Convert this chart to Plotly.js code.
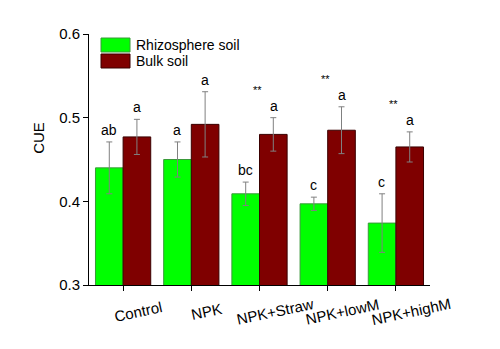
<!DOCTYPE html>
<html>
<head>
<meta charset="utf-8">
<script src="https://cdn.plot.ly/plotly-3.0.1.min.js"></script>
<style>html,body{margin:0;padding:0;background:#fff;}#chart{width:500px;height:349px;}</style>
</head>
<body>
<div id="chart"></div>
<script>
const categories = ["Control", "NPK", "NPK+Straw", "NPK+lowM", "NPK+highM"];
const seriesNames = ["Rhizosphere soil", "Bulk soil"];
const rhizoValues = [0.440, 0.450, 0.409, 0.397, 0.374];
const rhizoErrors = [0.031, 0.021, 0.014, 0.008, 0.035];
const bulkValues = [0.477, 0.492, 0.480, 0.485, 0.465];
const bulkErrors = [0.021, 0.039, 0.020, 0.028, 0.018];
const rhizoLetters = ["ab", "a", "bc", "c", "c"];
const bulkLetters = ["a", "a", "a", "a", "a"];
const significance = ["", "", "**", "**", "**"];
const yTicks = [0.3, 0.4, 0.5, 0.6];
const yTitle = "CUE";

const font = "Liberation Sans, Arial, sans-serif";
const colors = ["#00ff00", "#7f0000"];
const outlines = ["#3a9a3a", "#3a0000"];

const traces = [
  {
    type: "bar", name: seriesNames[0], x: categories, y: rhizoValues,
    marker: {color: colors[0], line: {color: outlines[0], width: 1}},
    error_y: {type: "data", array: rhizoErrors, visible: true, color: "#808080", thickness: 1, width: 3}
  },
  {
    type: "bar", name: seriesNames[1], x: categories, y: bulkValues,
    marker: {color: colors[1], line: {color: outlines[1], width: 1}},
    error_y: {type: "data", array: bulkErrors, visible: true, color: "#808080", thickness: 1, width: 3}
  }
];

const annotations = [];
categories.forEach((c, i) => {
  annotations.push({x: i, xshift: -14, y: rhizoValues[i] + rhizoErrors[i], yanchor: "bottom", yshift: 2,
    text: rhizoLetters[i], showarrow: false, font: {family: font, size: 14, color: "#000"}});
  annotations.push({x: i, xshift: 14, y: bulkValues[i] + bulkErrors[i], yanchor: "bottom", yshift: 2,
    text: bulkLetters[i], showarrow: false, font: {family: font, size: 14, color: "#000"}});
  if (significance[i]) {
    annotations.push({x: i, xshift: -2, y: bulkValues[i] + bulkErrors[i], yanchor: "bottom", yshift: 20,
      text: significance[i], showarrow: false, font: {family: font, size: 11, color: "#000"}});
  }
  // slanted category labels, centred a little right of each tick as in the original
  annotations.push({x: c, xref: "x", yref: "paper", y: -(311 - 285) / 251, xshift: 15,
    xanchor: "center", yanchor: "middle", text: c, textangle: -12, showarrow: false,
    font: {family: font, size: 15, color: "#000"}});
});

// custom legend (large swatches as in the original figure)
const shapes = [];
seriesNames.forEach((n, k) => {
  shapes.push({type: "rect", xref: "paper", yref: "paper",
    x0: (101 - 89) / 341, x1: (130 - 89) / 341,
    y0: (285 - (52 + 16 * k)) / 251, y1: (285 - (38 + 16 * k)) / 251,
    fillcolor: colors[k], line: {color: outlines[k], width: 1}});
  annotations.push({xref: "paper", yref: "paper", x: (134 - 89) / 341, y: (285 - (45 + 16 * k)) / 251,
    xanchor: "left", yanchor: "middle", text: n, showarrow: false,
    font: {family: font, size: 14, color: "#000"}});
});
annotations.push({xref: "paper", yref: "paper", x: -0.15, xanchor: "center", y: (285 - 138) / 251,
  yanchor: "middle", text: yTitle, textangle: -90, showarrow: false,
  font: {family: font, size: 15, color: "#000"}});

const layout = {
  width: 500, height: 349,
  margin: {l: 89, r: 70, t: 34, b: 64},
  paper_bgcolor: "#fff", plot_bgcolor: "#fff",
  font: {family: font, size: 14, color: "#000"},
  barmode: "group", bargap: 0.19, bargroupgap: 0,
  showlegend: false,
  xaxis: {
    type: "category", range: [-0.5, 4.5], showline: true, linecolor: "#000", linewidth: 1,
    ticks: "outside", ticklen: 5, tickcolor: "#000", showticklabels: false, showgrid: false, zeroline: false
  },
  yaxis: {
    range: [0.3, 0.6], tickvals: yTicks, ticktext: yTicks.map(v => v.toFixed(1)),
    showline: true, linecolor: "#000", linewidth: 1, ticks: "outside", ticklen: 5, tickcolor: "#000",
    showgrid: false, zeroline: false, tickfont: {family: font, size: 15}
  },
  shapes: shapes,
  annotations: annotations
};

Plotly.newPlot("chart", traces, layout, {staticPlot: true, displayModeBar: false});
</script>
</body>
</html>
